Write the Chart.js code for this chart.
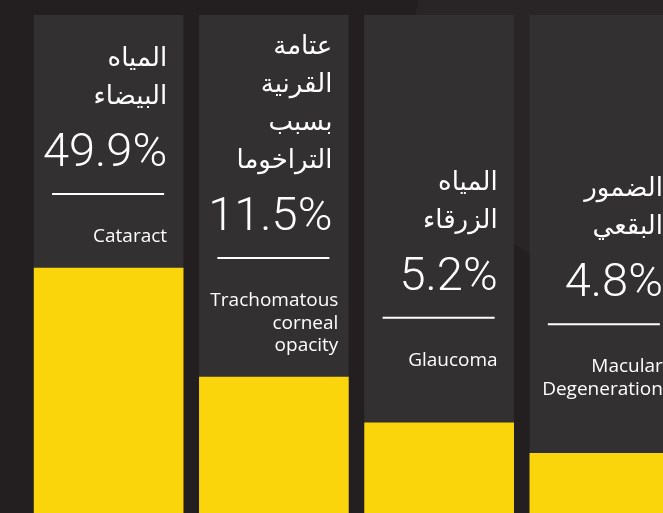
<!DOCTYPE html>
<html lang="ar">
<head>
<meta charset="utf-8">
<script src="https://cdn.jsdelivr.net/npm/chart.js@4/dist/chart.umd.min.js"></script>
<style>
  html, body { margin: 0; padding: 0; background: #231f20; overflow: hidden; }
  #wrap { position: relative; width: 700px; height: 513px; }
</style>
</head>
<body>
<div id="wrap"><canvas id="chart"></canvas></div>
<script>
// causes of blindness, share of cases
const causesAr = [['المياه', 'البيضاء'], ['عتامة', 'القرنية', 'بسبب', 'التراخوما'], ['المياه', 'الزرقاء'], ['الضمور', 'البقعي']];
const causesEn = [['Cataract'], ['Trachomatous', 'corneal', 'opacity'], ['Glaucoma'], ['Macular', 'Degeneration']];
const shares = [49.9, 11.5, 5.2, 4.8];
// yellow bar height as drawn in the picture (0-100 of the column)
const barLevels = [49.2, 27.3, 18.1, 12.0];
const columnMax = 100;

const YELLOW = '#fbd50b';
const PANEL = '#323031';

// how far above the yellow bar each divider sits (px), and small right nudges for english text
const dividerAbove = [74, 119, 105, 129];
const enNudge = [0, 6, 0, 0];

// faint lighter blob in the background, top right
const backdrop = {
  id: 'backdrop',
  beforeDraw(chart) {
    const ctx = chart.ctx;
    ctx.save();
    ctx.fillStyle = '#292526';
    ctx.beginPath();
    ctx.ellipse(640, 60, 230, 220, 0, 0, Math.PI * 2);
    ctx.fill();
    ctx.restore();
  }
};

const labelsPlugin = {
  id: 'labels',
  afterDatasetsDraw(chart) {
    const ctx = chart.ctx;
    const bars = chart.getDatasetMeta(0).data;
    bars.forEach((bar, i) => {
      const left = bar.x - bar.width / 2;
      const right = bar.x + bar.width / 2;
      const textRight = right - 16;
      const divY = bar.y - dividerAbove[i];
      ctx.save();
      ctx.fillStyle = '#ffffff';
      ctx.strokeStyle = '#ffffff';

      // divider
      ctx.lineWidth = 2;
      ctx.beginPath();
      ctx.moveTo(left + 18, divY);
      ctx.lineTo(right - 19, divY);
      ctx.stroke();

      // percentage
      ctx.textAlign = 'right';
      ctx.textBaseline = 'alphabetic';
      ctx.font = '300 47px Roboto, "Open Sans", sans-serif';
      ctx.fillText(shares[i].toFixed(1) + '%', textRight, divY - 28);

      // english name
      ctx.font = '19px "Open Sans", sans-serif';
      causesEn[i].forEach((line, k) => {
        ctx.fillText(line, textRight + enNudge[i], divY + 48 + k * 22.5);
      });

      // arabic name
      ctx.direction = 'rtl';
      ctx.font = '26px "DejaVu Sans", sans-serif';
      const ar = causesAr[i];
      ar.forEach((line, k) => {
        ctx.fillText(line, textRight, divY - 90 - (ar.length - 1 - k) * 38);
      });
      ctx.restore();
    });
  }
};

new Chart(document.getElementById('chart'), {
  type: 'bar',
  data: {
    labels: causesEn.map(l => l.join(' ')),
    datasets: [
      { label: 'share', data: barLevels, backgroundColor: YELLOW, grouped: false, barThickness: 149 },
      { label: 'column', data: causesEn.map(() => columnMax), backgroundColor: PANEL, grouped: false, barThickness: 149 }
    ]
  },
  options: {
    responsive: true,
    maintainAspectRatio: false,
    animation: false,
    layout: { padding: { left: 26, right: 13, top: 15, bottom: 0 } },
    plugins: { legend: { display: false }, tooltip: { enabled: false } },
    scales: {
      x: { display: false },
      y: { display: false, min: 0, max: columnMax }
    }
  },
  plugins: [backdrop, labelsPlugin]
});
</script>
</body>
</html>
